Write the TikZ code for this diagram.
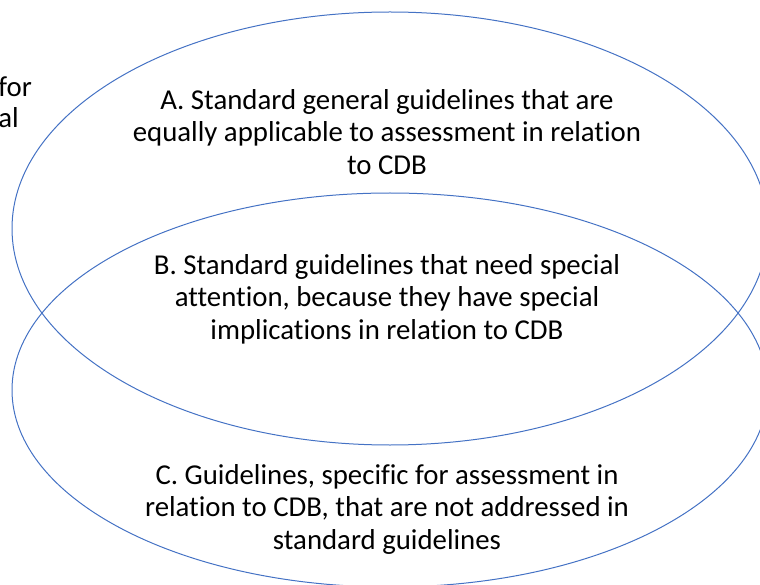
\documentclass[tikz,border=0pt]{standalone}
\usepackage{fontspec}
\setmainfont[Ligatures=CommonOff]{Carlito}
\usetikzlibrary{positioning}
\definecolor{setblue}{HTML}{4472C4}

\begin{document}
\begin{tikzpicture}[
    x=1pt, y=-1pt,
    set line/.style={draw=setblue, line width=1pt},
    guide text/.style={align=center, inner sep=0pt, font=\fontsize{28.8}{32.5}\selectfont},
    cut text/.style={anchor=base east, inner sep=0pt, font=\fontsize{28.8}{32.5}\selectfont}
    ]
    \useasboundingbox (0,0) rectangle (760,585);
    \clip (0,0) rectangle (760,585);
    % Ellipses
    \draw[set line] (390,228.5) ellipse [x radius=378, y radius=216.5];
    \draw[set line] (390,390) ellipse [x radius=378, y radius=197];
    % Texts
    \draw (387,132) node(textA)[guide text]
        {A. Standard general guidelines that are\\
         equally applicable to assessment in relation\\
         to CDB};
    \draw (387,299) node(textB)[guide text]
        {B. Standard guidelines that need special\\
         attention, because they have special\\
         implications in relation to CDB};
    \draw (387,509) node(textC)[guide text]
        {C. Guidelines, specific for assessment in\\
         relation to CDB, that are not addressed in\\
         standard guidelines};
    % Cut off text on the left
    \draw (32,97) node(cutA)[cut text]{for};
    \draw (19,128) node(cutB)[cut text]{al};
\end{tikzpicture}
\end{document}
